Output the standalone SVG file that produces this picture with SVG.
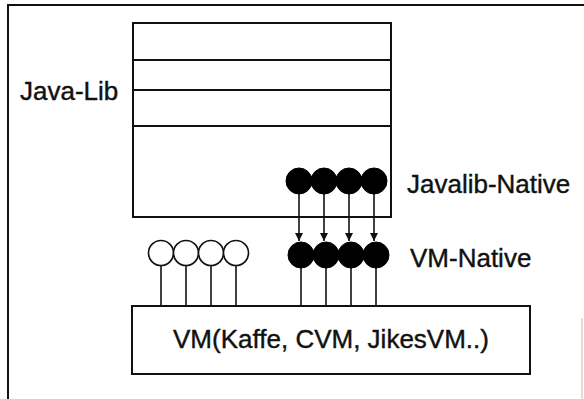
<svg xmlns="http://www.w3.org/2000/svg" width="584" height="399" viewBox="0 0 584 399">
<style>
.frame{fill:none;stroke:#111;stroke-width:2}
.box{fill:#fff;stroke:#111;stroke-width:2}
.stick{stroke:#111;stroke-width:1.6;fill:none}
.open{fill:#fff;stroke:#111;stroke-width:1.6}
.filled{fill:#000;stroke:#000;stroke-width:1}
.lbl{font-family:"Liberation Sans",Arial,sans-serif;font-size:26px;fill:#111;stroke:#111;stroke-width:0.4}
</style>
<defs>
<marker id="arr" viewBox="0 0 10 10" refX="10" refY="5" markerWidth="9" markerHeight="8" markerUnits="userSpaceOnUse" orient="auto">
<path d="M0,0 L10,5 L0,10 Z" fill="#111"/>
</marker>
</defs>
<rect width="584" height="399" fill="#fff"/>
<g id="frame">
<path class="frame" d="M8,399 V5 H584"/>
<path d="M582,318 V399" stroke="#bbb" stroke-width="1"/>
</g>
<g id="java-lib">
<rect class="box" x="133" y="23" width="258" height="194"/>
<line class="frame" x1="133" y1="60" x2="391" y2="60"/>
<line class="frame" x1="133" y1="90" x2="391" y2="90"/>
<line class="frame" x1="133" y1="126" x2="391" y2="126"/>
<text class="lbl" x="20" y="100">Java-Lib</text>
</g>
<g id="vm">
<rect class="box" x="132" y="306" width="398" height="68"/>
<text class="lbl" x="331" y="348" text-anchor="middle">VM(Kaffe, CVM, JikesVM..)</text>
</g>
<g id="connectors">
<line class="stick" x1="161" y1="265" x2="161" y2="306"/>
<line class="stick" x1="186" y1="265" x2="186" y2="306"/>
<line class="stick" x1="211" y1="265" x2="211" y2="306"/>
<line class="stick" x1="236" y1="265" x2="236" y2="306"/>
<line class="stick" x1="301" y1="265" x2="301" y2="306"/>
<line class="stick" x1="326" y1="265" x2="326" y2="306"/>
<line class="stick" x1="351" y1="265" x2="351" y2="306"/>
<line class="stick" x1="376" y1="265" x2="376" y2="306"/>
<line class="stick" x1="299" y1="192" x2="299" y2="241" marker-end="url(#arr)"/>
<line class="stick" x1="324" y1="192" x2="324" y2="241" marker-end="url(#arr)"/>
<line class="stick" x1="349" y1="192" x2="349" y2="241" marker-end="url(#arr)"/>
<line class="stick" x1="374" y1="192" x2="374" y2="241" marker-end="url(#arr)"/>
</g>
<g id="vm-open">
<circle class="open" cx="161" cy="253" r="12.5"/>
<circle class="open" cx="186" cy="253" r="12.5"/>
<circle class="open" cx="211" cy="253" r="12.5"/>
<circle class="open" cx="236" cy="253" r="12.5"/>
</g>
<g id="javalib-native">
<circle class="filled" cx="299" cy="181" r="13"/>
<circle class="filled" cx="324" cy="181" r="13"/>
<circle class="filled" cx="349" cy="181" r="13"/>
<circle class="filled" cx="374" cy="181" r="13"/>
<text class="lbl" x="407" y="193">Javalib-Native</text>
</g>
<g id="vm-native">
<circle class="filled" cx="301" cy="255" r="13"/>
<circle class="filled" cx="326" cy="255" r="13"/>
<circle class="filled" cx="351" cy="255" r="13"/>
<circle class="filled" cx="376" cy="255" r="13"/>
<text class="lbl" x="410" y="267">VM-Native</text>
</g>
</svg>
